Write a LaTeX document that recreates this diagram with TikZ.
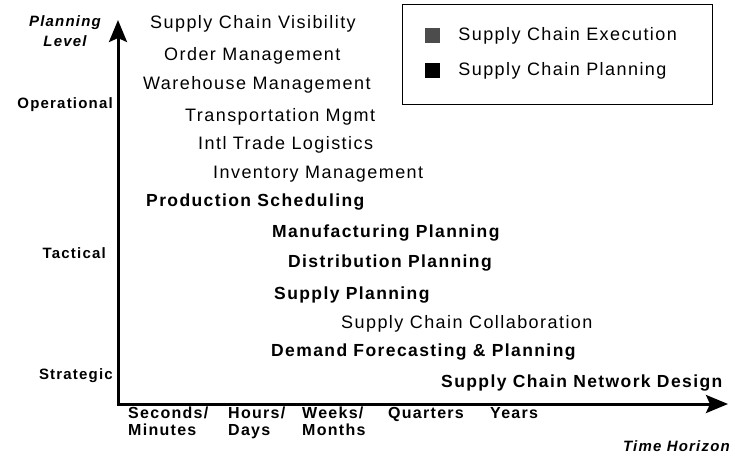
\documentclass[tikz,border=0pt]{standalone}
\usepackage{fontspec}
\setmainfont{Liberation Sans}[LetterSpace=8]
\usepackage{tikz}
\usetikzlibrary{arrows.meta,positioning}

\begin{document}
\begin{tikzpicture}[x=1pt,y=-1pt,
	exec/.style={anchor=west,inner sep=0pt,font=\fontsize{18}{20}\selectfont},
	plan/.style={exec,font=\fontsize{17.5}{20}\selectfont\bfseries},
	level/.style={anchor=east,inner sep=0pt,font=\fontsize{15}{18}\selectfont\bfseries},
	horizon/.style={anchor=north west,inner sep=0pt,align=left,font=\fontsize{16}{17}\selectfont\bfseries},
	axislabel/.style={inner sep=0pt,align=center,font=\fontsize{15}{20}\selectfont\bfseries\itshape},
	axis/.style={line width=3pt,{Stealth[length=22pt,width=18pt,inset=4pt]}-{Stealth[length=22pt,width=18pt,inset=4pt]}}]
	\useasboundingbox (0,0) rectangle (735,459);
	% axes
	\coordinate (O) at (118,404);
	\coordinate (ytip) at (118,20);
	\coordinate (xtip) at (728,404);
	\draw[axis] (ytip) -- (O) -- (xtip);
	\node[axislabel] (ylab) at (65,31) {Planning\\Level};
	\node[axislabel,anchor=east] (xlab) at (730,446) {Time Horizon};
	% planning levels
	\node[level] (oper) at (113,105) {Operational};
	\node[level] (tact) at (106,253) {Tactical};
	\node[level] (strat) at (113,376) {Strategic};
	% time horizons
	\foreach \nm/\px/\tx in {sec/128/{Seconds/\\Minutes}, hrs/228/{Hours/\\Days},
		wks/302/{Weeks/\\Months}, qtr/388/Quarters, yrs/490/Years}
		\node[horizon] (\nm) at (\px,407) {\tx};
	% applications
	\foreach \nm/\px/\py/\st/\tx in {vis/150/24/exec/Supply Chain Visibility,
		ord/164/56/exec/Order Management, whs/143/85/exec/Warehouse Management,
		trn/185/117/exec/Transportation Mgmt, itl/198/145/exec/Intl Trade Logistics,
		inv/213/174/exec/Inventory Management, prd/146/202/plan/Production Scheduling,
		mfg/272/233/plan/Manufacturing Planning, dst/288/263/plan/Distribution Planning,
		sup/274/295/plan/Supply Planning, col/341/324/exec/Supply Chain Collaboration,
		dem/271/352/plan/Demand Forecasting \& Planning, net/441/383/plan/Supply Chain Network Design}
		\node[\st] (\nm) at (\px,\py) {\tx};
	% legend
	\node[draw,thin,anchor=north west,minimum width=310pt,minimum height=100pt] (legend) at (402,4) {};
	\node[fill=black!70,inner sep=0pt,minimum size=15pt] (kexec) at (432.5,35.5) {};
	\node[fill=black,inner sep=0pt,minimum size=15pt] (kplan) at (432.5,70.5) {};
	\node[exec,font=\fontsize{18}{20}\selectfont,right=18pt of kexec] (lexec) {Supply Chain Execution};
	\node[exec,font=\fontsize{18}{20}\selectfont,right=18pt of kplan] (lplan) {Supply Chain Planning};
\end{tikzpicture}
\end{document}
